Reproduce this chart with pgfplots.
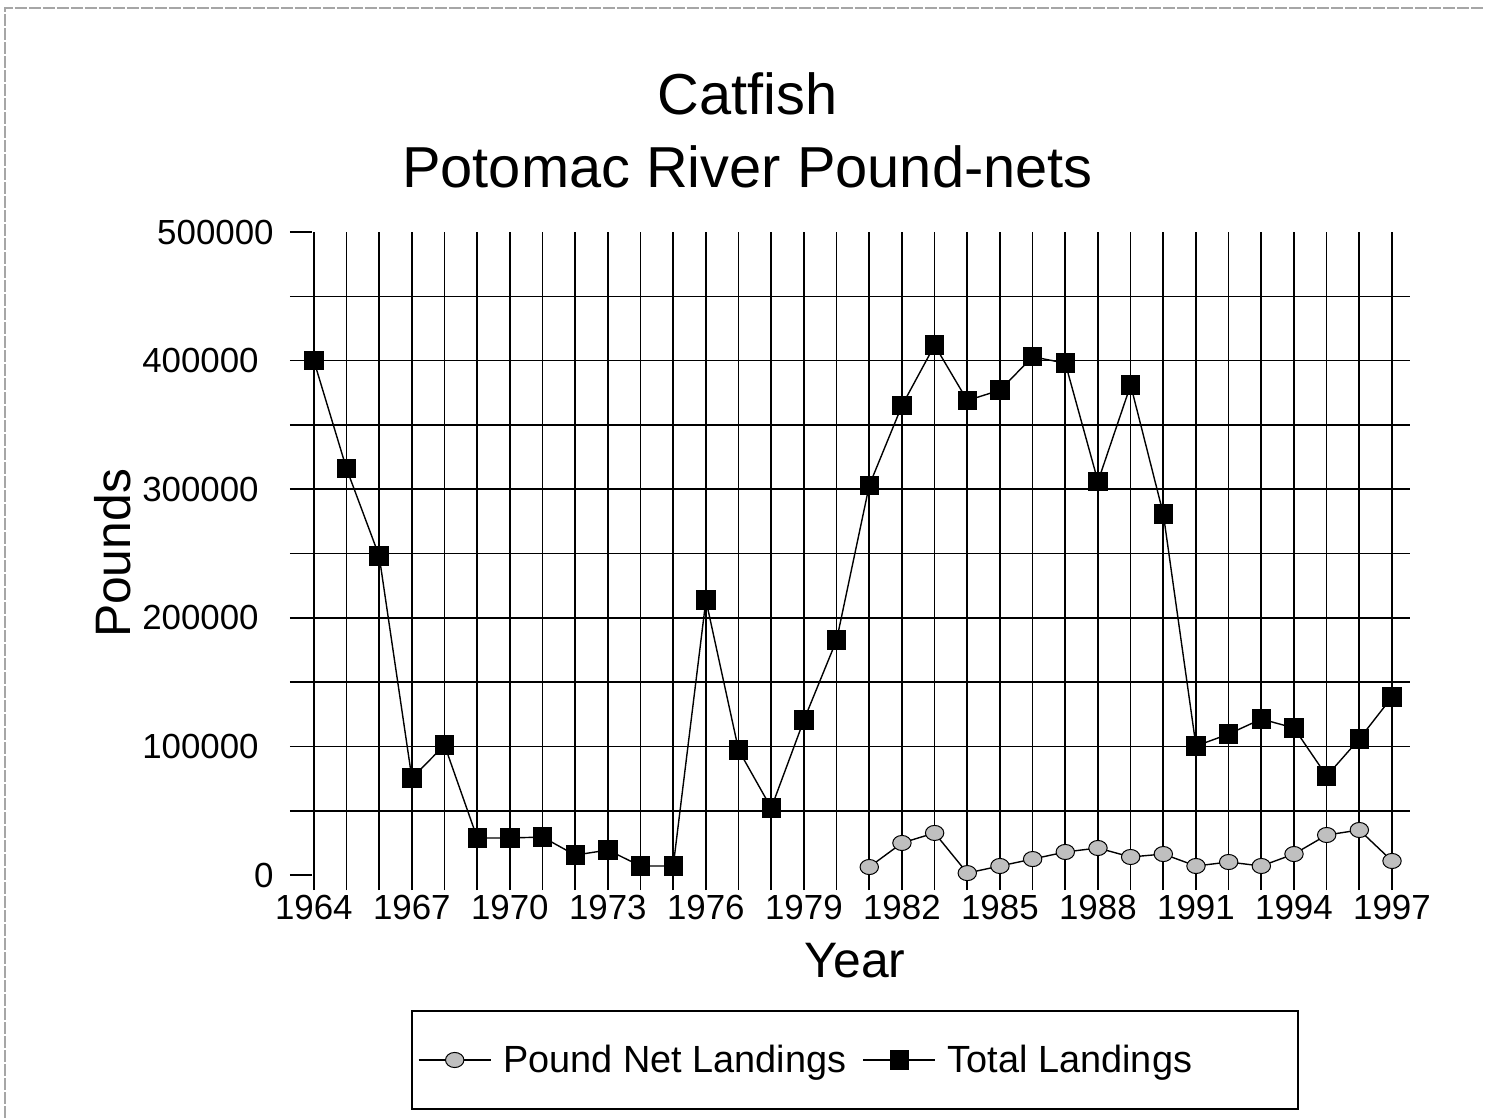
\documentclass[border=0pt]{standalone}
\usepackage{fontspec}
\setmainfont{Liberation Sans}
\usepackage{pgfplots}
\pgfplotsset{compat=1.18}
\begin{document}
\begin{tikzpicture}
\useasboundingbox (-145bp,-121.5bp) rectangle (597.5bp,437.5bp);
\fill[white] (-145bp,-121.5bp) rectangle (597.5bp,437.5bp);
\draw[gray!70, line width=0.8bp, dash pattern=on 6bp off 1bp] (-142.5bp,-121.5bp) -- (-142.5bp,433.5bp) -- (597.5bp,433.5bp);
\begin{axis}[
  at={(0,0)}, anchor=south west,
  scale only axis, width=560bp, height=321.5bp,
  xmin=1963.27, xmax=1997.55,
  ymin=0, ymax=500000,
  axis line style={draw=none},
  clip=true,
  scaled y ticks=false,
  /pgf/number format/assume math mode=true,
  xtick={1964,...,1997},
  xticklabels={1964,,,1967,,,1970,,,1973,,,1976,,,1979,,,1982,,,1985,,,1988,,,1991,,,1994,,,1997},
  ytick={50000,100000,...,450000},
  yticklabels={,100000,,200000,,300000,,400000,},
  extra y ticks={0,500000},
  extra y tick labels={0,500000},
  extra y tick style={grid=none, tick align=inside, major tick length=11bp, ytick style={draw=black, line width=0.8bp}},
  ytick style={draw=none},
  xtick style={draw=black, line width=0.8bp},
  tick pos=left,
  tick align=outside,
  major tick length=7.5bp,
  grid=major,
  major grid style={black, line width=0.8bp},
  tick label style={font=\fontsize{17.5}{21}\selectfont, inner sep=0pt},
  yticklabel style={anchor=east, xshift=-8bp},
  xticklabel style={anchor=north, yshift=-2.5bp},
  xlabel={Year},
  ylabel={Pounds},
  label style={font=\fontsize{25}{30}\selectfont},
  xlabel style={at={(axis description cs:0.5045,0)}, anchor=base, yshift=-51bp, inner sep=0pt},
  ylabel style={at={(axis description cs:-0.158,0.5)}, anchor=center, inner sep=0pt},
  legend style={at={(axis description cs:0.5045,-0.2877)}, anchor=center, legend columns=2,
    font=\fontsize{19}{23}\selectfont, inner xsep=3bp, inner ysep=15bp, draw=black, line width=0.8bp,
    /tikz/every even column/.append style={column sep=2bp},
    nodes={inner xsep=6bp}},
  legend image code/.code={\draw[#1] plot coordinates {(0bp,0bp) (18bp,0bp) (36bp,0bp)};},
  legend image post style={mark repeat=2, mark phase=2},
]
\addplot[black, line width=0.7bp, mark=*, mark size=4.6bp, mark options={fill=gray!50, draw=black, line width=0.5bp, yscale=0.82}]
coordinates {
(1981,6200) (1982,24900) (1983,32700) (1984,1500) (1985,7000) (1986,12400) (1987,17900)
(1988,21000) (1989,14000) (1990,16300) (1991,7000) (1992,10100) (1993,7000) (1994,16300)
(1995,31100) (1996,35000) (1997,10900)
};
\addlegendentry{Pound Net Landings}
\addplot[black, line width=0.7bp, mark=square*, mark size=4.5bp, mark options={fill=black}]
coordinates {
(1964,400000) (1965,316000) (1966,248000) (1967,75400) (1968,101000) (1969,28800) (1970,28800)
(1971,29500) (1972,15500) (1973,19400) (1974,7000) (1975,7000) (1976,213800) (1977,97200)
(1978,52100) (1979,120500) (1980,182700) (1981,303000) (1982,365000) (1983,412000) (1984,369000)
(1985,377000) (1986,403000) (1987,398000) (1988,306000) (1989,381000) (1990,280700) (1991,100300)
(1992,109600) (1993,121300) (1994,114300) (1995,77000) (1996,105800) (1997,138400)
};
\addlegendentry{Total Landings\hspace*{44bp}}
\end{axis}
\node[anchor=base, font=\fontsize{29}{34}\selectfont, inner sep=0pt] at (228.75bp,380bp) {Catfish};
\node[anchor=base, font=\fontsize{29}{34}\selectfont, inner sep=0pt] at (228.75bp,343.5bp) {Potomac River Pound-nets};
\end{tikzpicture}
\end{document}
